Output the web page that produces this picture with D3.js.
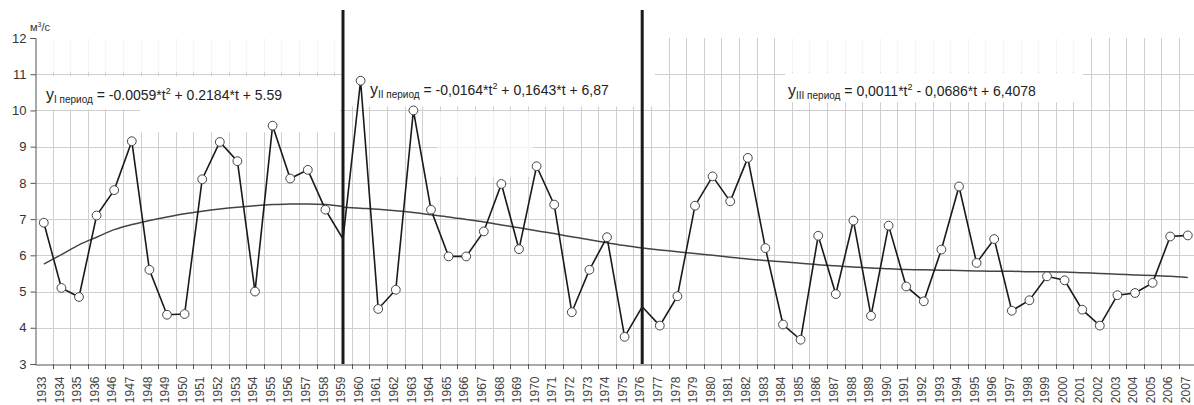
<!DOCTYPE html>
<html>
<head>
<meta charset="utf-8">
<script src="https://cdn.jsdelivr.net/npm/d3@7"></script>
<style>
  body { margin: 0; background: #fff; }
  svg { font-family: "Liberation Sans", Arial, sans-serif; }
</style>
</head>
<body>
<svg id="chart" width="1194" height="405"></svg>
<script>
// years on the category axis (1937-1945 are absent in the source)
const years = ['1933', '1934', '1935', '1936',
  '1946', '1947', '1948', '1949', '1950', '1951', '1952', '1953', '1954', '1955', '1956', '1957', '1958',
  '1959', '1960', '1961', '1962', '1963', '1964', '1965', '1966', '1967', '1968', '1969', '1970', '1971',
  '1972', '1973', '1974', '1975', '1976', '1977', '1978', '1979', '1980', '1981', '1982', '1983', '1984',
  '1985', '1986', '1987', '1988', '1989', '1990', '1991', '1992', '1993', '1994', '1995', '1996', '1997',
  '1998', '1999', '2000', '2001', '2002', '2003', '2004', '2005', '2006', '2007'];

// discharge, m3/s
const flow = [6.9, 5.1, 4.85, 7.1,
  7.8, 9.15, 5.6, 4.36, 4.38, 8.1, 9.13, 8.6, 5.0, 9.58, 8.12, 8.36, 7.26,
  6.45, 10.82, 4.52, 5.05, 10.0, 7.26, 5.97, 5.97, 6.66, 7.97, 6.17, 8.46, 7.4,
  4.43, 5.6, 6.5, 3.75, 4.58, 4.06, 4.87, 7.37, 8.18, 7.49, 8.69, 6.2, 4.09,
  3.67, 6.54, 4.93, 6.96, 4.33, 6.82, 5.14, 4.73, 6.16, 7.9, 5.79, 6.45, 4.47,
  4.76, 5.42, 5.31, 4.5, 4.06, 4.9, 4.96, 5.24, 6.52, 6.55];

// trend curves (1933-1959, 1959-1976, 1976-2007)
const trendI = [5.76, 6.02, 6.29, 6.5, 6.71, 6.85, 6.96, 7.06, 7.15, 7.22, 7.28, 7.33, 7.37, 7.4, 7.42, 7.42, 7.4, 7.35];
const trendII = [7.33, 7.3, 7.27, 7.23, 7.18, 7.12, 7.06, 6.99, 6.92, 6.84, 6.76, 6.68, 6.6, 6.51, 6.43, 6.35, 6.27, 6.2];
const trendIII = [6.2, 6.15, 6.1, 6.05, 6.0, 5.95, 5.9, 5.86, 5.82, 5.78, 5.74, 5.71, 5.68, 5.65, 5.63, 5.61,
  5.6, 5.59, 5.58, 5.57, 5.56, 5.56, 5.55, 5.55, 5.54, 5.52, 5.5, 5.48, 5.46, 5.44, 5.42, 5.39];
const trendStart = ['1933', '1959', '1976'];

const periodBreaks = ['1959', '1976'];
const yTicks = [3, 4, 5, 6, 7, 8, 9, 10, 11, 12];

const eqNames = ['I период', 'II период', 'III период'];
const eqHead = [' = -0.0059*t', ' = -0,0164*t', ' = 0,0011*t'];
const eqTail = [' + 0.2184*t + 5.59', ' + 0,1643*t + 6,87', ' - 0,0686*t + 6,4078'];

const svg = d3.select('#chart');
const plotLeft = 35, plotTop = 38, plotBottom = 364, step = 17.6;

const x = d3.scaleBand().domain(years).range([plotLeft, plotLeft + step * years.length]).padding(0);
const y = d3.scaleLinear().domain([3, 12]).range([plotBottom, plotTop]);
const cx = (yr) => x(yr) + x.bandwidth() / 2;

const grid = svg.append('g').attr('stroke', '#cfcfcf').attr('stroke-width', 1);
years.forEach((yr) => {
  const gx = Math.round(x(yr) + x.bandwidth()) + 0.5;
  grid.append('line').attr('x1', gx).attr('x2', gx).attr('y1', plotTop).attr('y2', plotBottom);
});
yTicks.filter((t) => t > 3 && t < 12).forEach((t) => {
  const gy = Math.round(y(t)) + 0.5;
  grid.append('line').attr('x1', plotLeft).attr('x2', 1194).attr('y1', gy).attr('y2', gy);
});

// faded scan area at the top and the white boxes behind the equations
const fade = svg.append('g').attr('fill', '#fff');
fade.append('rect').attr('x', plotLeft + 1).attr('y', plotTop - 2).attr('width', 655 - plotLeft).attr('height', y(11) - plotTop).attr('opacity', 0.8);
fade.append('rect').attr('x', 785).attr('y', plotTop - 2).attr('width', 298).attr('height', y(11) - plotTop).attr('opacity', 0.8);
fade.append('rect').attr('x', 438).attr('y', y(10) + 1).attr('width', 95).attr('height', y(8.2) - y(10)).attr('opacity', 0.75);
fade.append('rect').attr('x', plotLeft + 1).attr('y', y(11) + 2).attr('width', 105).attr('height', y(10) - y(11) - 3);
fade.append('rect').attr('x', 140).attr('y', y(11) + 2).attr('width', 200).attr('height', y(9.45) - y(11));
fade.append('rect').attr('x', 343).attr('y', plotTop - 2).attr('width', 312).attr('height', y(10) - plotTop - 2);
fade.append('rect').attr('x', 785).attr('y', y(11) - 1).attr('width', 298).attr('height', y(10.2) - y(11));

// axes
const axisColor = '#555';
const yAxis = svg.append('g').attr('transform', `translate(${plotLeft + 0.5},0)`)
  .call(d3.axisLeft(y).tickValues(yTicks).tickSize(5).tickPadding(4).tickFormat(d3.format('d')));
yAxis.select('.domain').attr('stroke', axisColor);
yAxis.selectAll('.tick line').attr('stroke', axisColor);
yAxis.selectAll('.tick text').attr('fill', '#333').style('font-size', '13px');

const xAxis = svg.append('g').attr('transform', `translate(0,${plotBottom + 0.5})`)
  .call(d3.axisBottom(x).tickSize(0).tickSizeOuter(0));
xAxis.select('.domain').attr('stroke', axisColor);
xAxis.selectAll('.tick text')
  .attr('fill', '#444').style('font-size', '12px')
  .attr('text-anchor', 'end')
  .attr('transform', 'translate(-2,12) rotate(-90)')
  .attr('x', 0).attr('y', 0).attr('dy', '0.35em');
years.forEach((yr) => {
  const tx = Math.round(x(yr) + x.bandwidth()) + 0.5;
  svg.append('line').attr('x1', tx).attr('x2', tx).attr('y1', plotBottom).attr('y2', plotBottom + 5).attr('stroke', axisColor);
});

// trends
const trendLine = d3.line().x((d) => cx(d[0])).y((d) => y(d[1])).curve(d3.curveMonotoneX);
[trendI, trendII, trendIII].forEach((tr, k) => {
  const s = years.indexOf(trendStart[k]);
  const pts = tr.map((v, i) => [years[s + i], v]);
  svg.append('path').datum(pts).attr('d', trendLine)
    .attr('fill', 'none').attr('stroke', '#444').attr('stroke-width', 1.5);
});

// series
const series = years.map((yr, i) => [yr, flow[i]]);
svg.append('path').datum(series)
  .attr('d', d3.line().x((d) => cx(d[0])).y((d) => y(d[1])))
  .attr('fill', 'none').attr('stroke', '#1a1a1a').attr('stroke-width', 1.6);

svg.append('g').selectAll('circle')
  .data(series.filter((d) => !periodBreaks.includes(d[0])))
  .enter().append('circle')
  .attr('cx', (d) => cx(d[0])).attr('cy', (d) => y(d[1])).attr('r', 4.4)
  .attr('fill', '#fff').attr('stroke', '#444').attr('stroke-width', 1);

// period boundaries
periodBreaks.forEach((yr) => {
  svg.append('line').attr('x1', cx(yr)).attr('x2', cx(yr)).attr('y1', 10).attr('y2', plotBottom)
    .attr('stroke', '#1a1a1a').attr('stroke-width', 3);
});

// equations
eqNames.forEach((nm, k) => {
  const ex = [46, 370, 788][k], ey = [100, 95, 96][k];
  const t = svg.append('text').attr('x', ex).attr('y', ey).attr('fill', '#222').style('font-size', '14px');
  t.append('tspan').text('y').style('font-size', '16px');
  t.append('tspan').text(nm).style('font-size', '10px').attr('dy', 3);
  t.append('tspan').text(eqHead[k]).attr('dy', -3);
  t.append('tspan').text('2').style('font-size', '9px').attr('dy', -6);
  t.append('tspan').text(eqTail[k]).attr('dy', 6);
});

// unit label
const unit = svg.append('text').attr('x', 30).attr('y', 31).attr('fill', '#333').style('font-size', '11px');
unit.append('tspan').text('м');
unit.append('tspan').text('3').style('font-size', '7px').attr('dy', -4);
unit.append('tspan').text('/с').attr('dy', 4);
</script>
</body>
</html>
